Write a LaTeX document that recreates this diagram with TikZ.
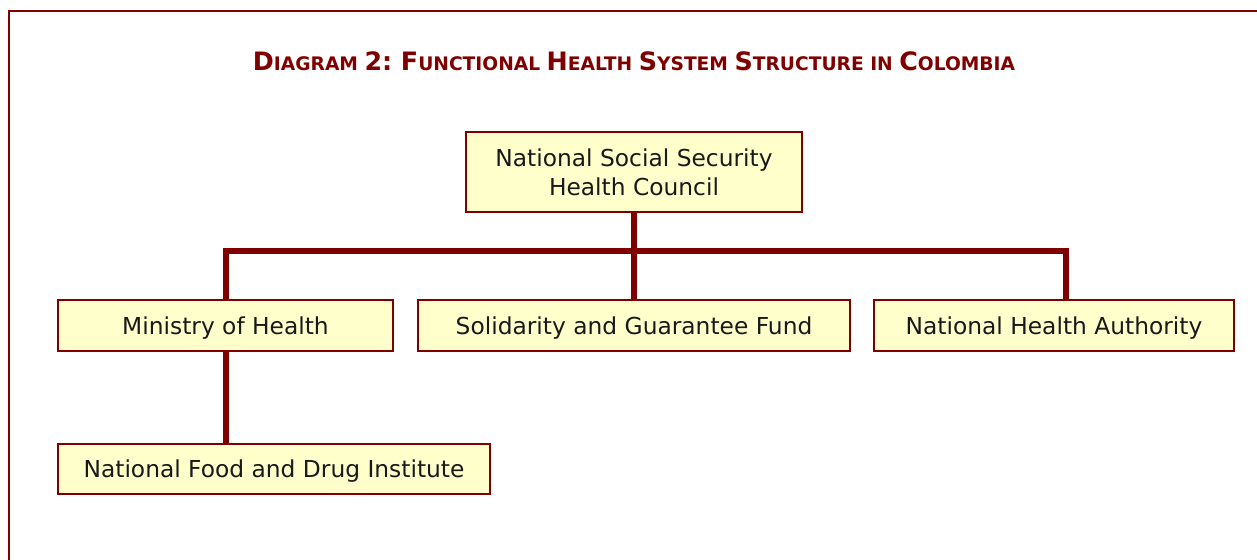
\documentclass[tikz,border=0pt]{standalone}
\usepackage{fontspec}
\setmainfont{DejaVu Sans}
\usetikzlibrary{positioning}
\definecolor{darkmaroon}{HTML}{800000}
\definecolor{paleyellow}{HTML}{FFFFCC}
% fake small caps for the heading
\newcommand{\capl}[1]{{\fontsize{19}{22}\selectfont #1}}
\tikzset{
  orgbox/.style={draw=darkmaroon,fill=paleyellow,line width=1.6pt,align=center,
    inner sep=0pt,font=\fontsize{17.5}{21.75}\selectfont,text=black!90},
  oneline/.style={orgbox,text depth=0pt},
  link/.style={draw=darkmaroon,line width=4.5pt},
}

\begin{document}
\begin{tikzpicture}[x=0.75pt,y=-0.75pt]
\useasboundingbox (0,0) rectangle (1257,560);
\clip (0,0) rectangle (1257,560);
%frame
\draw[darkmaroon,line width=1.5pt] (9,11) rectangle (1290,600);
%heading
\node[anchor=base,text=darkmaroon,font=\fontsize{14}{16}\selectfont\bfseries] (title) at (634,70)
  {\capl{D}IAGRAM \capl{2:} \capl{F}UNCTIONAL \capl{H}EALTH \capl{S}YSTEM \capl{S}TRUCTURE IN \capl{C}OLOMBIA};
%boxes
\node[orgbox,minimum width=252pt,minimum height=60pt] (council) at (634,172) {National Social Security\\Health Council};
\node[oneline,minimum width=251.25pt,minimum height=38.25pt] (ministry) at (225.5,325.5) {Ministry of Health};
\node[oneline,minimum width=324pt,minimum height=38.25pt] (fund) at (634,325.5) {Solidarity and Guarantee Fund};
\node[oneline,minimum width=270pt,minimum height=38.25pt] (authority) at (1054,325.5) {National Health Authority};
\node[oneline,minimum width=324pt,minimum height=37.5pt] (food) at (274,469) {National Food and Drug Institute};
%connectors
\coordinate (barL) at (226,251);
\coordinate (barR) at (1066,251);
\draw[link] (council) -- (fund);
\draw[link,line cap=rect] (barL) -- (barR);
\draw[link] (barL) -- (barL |- ministry.north);
\draw[link] (barR) -- (barR |- authority.north);
\draw[link] (ministry.south -| barL) -- (barL |- food.north);
\end{tikzpicture}
\end{document}
